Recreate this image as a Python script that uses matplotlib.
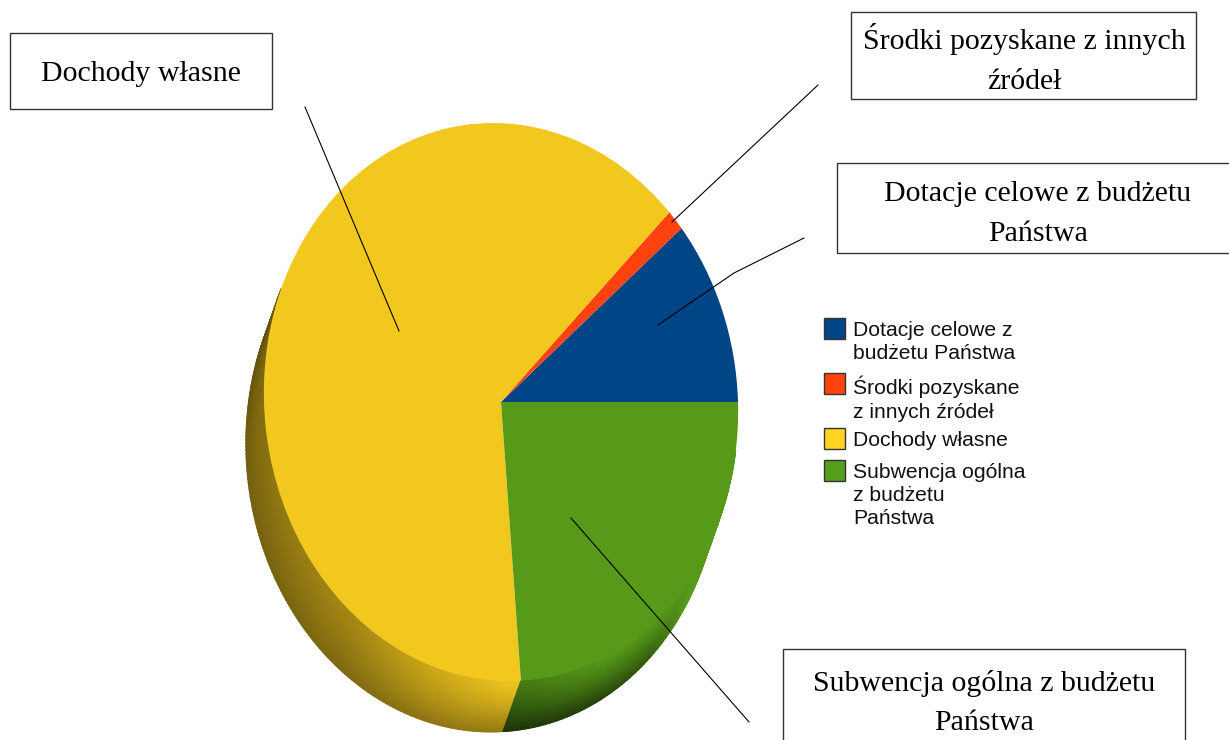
import numpy as np
import matplotlib
matplotlib.use('Agg')
import matplotlib.pyplot as plt
from matplotlib.patches import Rectangle
from matplotlib.transforms import Affine2D
from matplotlib.colors import to_rgb

# Data, shares of the pie in percent
categories = ['Dotacje celowe z budżetu Państwa', 'Środki pozyskane z innych źródeł',
              'Dochody własne', 'Subwencja ogólna z budżetu Państwa']
values = [10.7, 1.2, 63.9, 24.2]
legend_labels = ['Dotacje celowe z\nbudżetu Państwa', 'Środki pozyskane\nz innych źródeł',
                 'Dochody własne', 'Subwencja ogólna\nz budżetu\nPaństwa']
colors = ['#004586', '#ff420e', '#f2c81f', '#579a19']
legend_colors = ['#004586', '#ff420e', '#ffd320', '#579d1c']
callouts = ['Dochody własne', 'Środki pozyskane z innych\nźródeł',
            'Dotacje celowe z budżetu\nPaństwa', 'Subwencja ogólna z budżetu\nPaństwa']

W, H = 1229, 740
fig = plt.figure(figsize=(W / 100, H / 100), dpi=100)
ax = fig.add_axes([0, 0, 1, 1])

# Tilted pie: unit circle mapped to an ellipse in pixels
cx, cy = 501, 402
rx, ry, skew = 237, 279, -8
off_x, off_y = -18, 51
to_px = Affine2D.from_values(rx, 0, skew, -ry, cx, cy)

wedges, _ = ax.pie(values, colors=colors, startangle=0, counterclock=True, radius=1,
                   wedgeprops={'linewidth': 0})
for w in wedges:
    w.set_transform(to_px + ax.transData)
    w.set_zorder(3)

ax.set_aspect('auto')
ax.set_xlim(0, W)
ax.set_ylim(H, 0)
ax.axis('off')


def side(color, t0, t1, ang, inner, outer):
    # Extruded edge of the pie, shaded along the arc and across the depth
    t = np.linspace(t0, t1, 160)
    d = np.linspace(0, 1, 14)
    tt, dd = np.meshgrid(t, d)
    r = np.radians(tt)
    X = cx + rx * np.cos(r) + skew * np.sin(r) + dd * off_x
    Y = cy - ry * np.sin(r) + dd * off_y
    s_in = np.interp(tt, ang, inner)
    s_out = np.interp(tt, ang, outer)
    shade = s_in + (s_out - s_in) * dd ** 1.3
    C = np.clip(shade[..., None] * np.array(to_rgb(color)), 0, 1)
    ax.pcolormesh(X, Y, C, shading='gouraud', zorder=2)


edges = np.cumsum(values) / np.sum(values) * 360
side(colors[2], 156, edges[2], [156, 180, 230, 262, edges[2]],
     [0.45, 0.55, 0.68, 0.92, 1.0], [0.40, 0.47, 0.52, 0.60, 0.60])
side(colors[3], edges[2], 350, [edges[2], 295, 312, 325, 350],
     [0.8, 1.0, 1.0, 1.0, 1.0], [0.32, 0.42, 0.6, 1.0, 1.0])

# Legend
leg_y = [318, 373, 428, 460]
for lab, col, y in zip(legend_labels, legend_colors, leg_y):
    ax.add_patch(Rectangle((823.5, y), 21, 21, facecolor=col, edgecolor='#333333', lw=1, zorder=4))
    ax.text(853, y + 3, lab, family='Liberation Sans', fontsize=15.2, color='#111111',
            va='top', ha='left', linespacing=1.28, zorder=4)

# Callout boxes, the third runs past the picture's edge
boxes = [(10, 33, 262, 76), (851, 12, 345, 87), (836.5, 163, 400, 90), (783, 649, 402, 95)]
text_x = [141, 1024, 1038, 984]
text_y = [74, 59, 214, 703]
for lab, (x, y, w, h), tx, ty in zip(callouts, boxes, text_x, text_y):
    ax.add_patch(Rectangle((x, y), w, h, facecolor='white', edgecolor='#333333', lw=1, zorder=4))
    ax.text(tx, ty, lab, family='Liberation Serif', fontsize=21.5, color='black',
            ha='center', va='center', linespacing=1.68, zorder=5)

# Leader lines
leaders = [([305, 399], [107, 331]),
           ([818, 672], [85, 222]),
           ([804, 734, 658], [238, 273, 325]),
           ([571, 749], [518, 722])]
for xs, ys in leaders:
    ax.plot(xs, ys, color='black', lw=0.8, zorder=6)

fig.savefig('out.png', dpi=100, facecolor='white')
